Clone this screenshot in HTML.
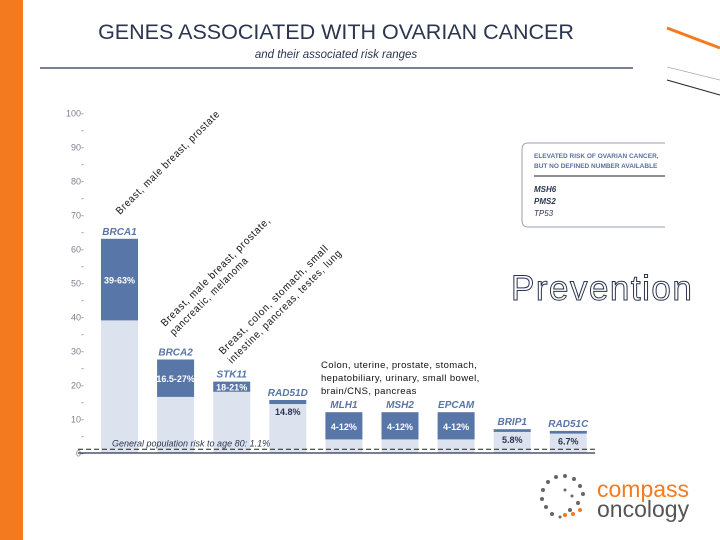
<!DOCTYPE html>
<html><head><meta charset="utf-8"><style>
body{margin:0;width:720px;height:540px;overflow:hidden;background:#fff;font-family:"Liberation Sans",sans-serif;position:relative}
</style></head><body>
<div style="position:absolute;left:0;top:0;width:23px;height:540px;background:#f47a20"></div>
<svg width="720" height="540" style="position:absolute;left:0;top:0">
<text x="336" y="39" text-anchor="middle" font-size="21.5" fill="#2a3550" font-family="Liberation Sans">GENES ASSOCIATED WITH OVARIAN CANCER</text>
<text x="336" y="58" text-anchor="middle" font-size="11.5" font-style="italic" fill="#2a3550">and their associated risk ranges</text>
<line x1="40" y1="68" x2="633" y2="68" stroke="#2a3550" stroke-width="1.2"/>
<line x1="667" y1="28" x2="720" y2="48" stroke="#f47a20" stroke-width="3"/>
<line x1="667" y1="67" x2="720" y2="80" stroke="#aaa" stroke-width="0.8"/>
<line x1="667" y1="80" x2="720" y2="95" stroke="#222" stroke-width="1"/>
<g id="axis"></g>
<g id="bars"></g>
<line x1="78" y1="453" x2="595" y2="453" stroke="#2a3550" stroke-width="1.2"/>
<g font-size="10.5" fill="#111" letter-spacing="0.8">
<text transform="translate(120,215) rotate(-45)" textLength="142" lengthAdjust="spacingAndGlyphs">Breast, male breast, prostate</text>
<text transform="translate(165,327) rotate(-45)" textLength="150" lengthAdjust="spacingAndGlyphs">Breast, male breast, prostate,</text>
<text transform="translate(174,336) rotate(-45)" textLength="106" lengthAdjust="spacingAndGlyphs">pancreatic, melanoma</text>
<text transform="translate(223,355) rotate(-45)" textLength="150" lengthAdjust="spacingAndGlyphs">Breast, colon, stomach, small</text>
<text transform="translate(232,364) rotate(-45)" textLength="156" lengthAdjust="spacingAndGlyphs">intestine, pancreas, testes, lung</text>
</g>
<g font-size="9.5" fill="#111" letter-spacing="0.4">
<text x="321" y="368">Colon, uterine, prostate, stomach,</text>
<text x="321" y="381">hepatobiliary, urinary, small bowel,</text>
<text x="321" y="394">brain/CNS, pancreas</text>
</g>
<g>
<path d="M665,143 L528,143 Q522,143 522,150 L522,220 Q522,227 528,227 L665,227" fill="#fff" stroke="#9aa0ad" stroke-width="1"/>
<text x="534" y="158" font-size="6.5" font-weight="bold" fill="#5a6fa0">ELEVATED RISK OF OVARIAN CANCER,</text>
<text x="534" y="168" font-size="6.5" font-weight="bold" fill="#5a6fa0">BUT NO DEFINED NUMBER AVAILABLE</text>
<line x1="534" y1="176" x2="665" y2="176" stroke="#222" stroke-width="1"/>
<text x="534" y="192" font-size="8" font-weight="bold" font-style="italic" fill="#2a3550">MSH6</text>
<text x="534" y="204" font-size="8" font-weight="bold" font-style="italic" fill="#2a3550">PMS2</text>
<text x="534" y="216" font-size="8" font-style="italic" fill="#2a3550">TP53</text>
</g>
<text x="511" y="300" font-size="35" fill="#fff" stroke="#2a3550" stroke-width="1" letter-spacing="1.5">Prevention</text>
<g>
<g fill="#666">
<circle cx="548" cy="482" r="2"/><circle cx="556" cy="477" r="2"/><circle cx="565" cy="476" r="2"/><circle cx="574" cy="479" r="2"/><circle cx="580" cy="486" r="2"/><circle cx="583" cy="494" r="2"/><circle cx="578" cy="503" r="2"/><circle cx="543" cy="490" r="2"/><circle cx="542" cy="499" r="2"/><circle cx="546" cy="507" r="2"/><circle cx="552" cy="514" r="2"/><circle cx="560" cy="517" r="1.5"/><circle cx="570" cy="510" r="2"/><circle cx="565" cy="490" r="1.5"/><circle cx="572" cy="496" r="1.5"/>
</g>
<g fill="#f47a20"><circle cx="565" cy="515" r="2"/><circle cx="573" cy="514" r="2"/><circle cx="580" cy="510" r="2"/></g>
<text x="597" y="497" font-size="23" fill="#f47a20">compass</text>
<text x="597" y="517" font-size="23" fill="#555">oncology</text>
</g>
</svg>
<script>
const genes=["BRCA1","BRCA2","STK11","RAD51D","MLH1","MSH2","EPCAM","BRIP1","RAD51C"];
const lowVals=[39,16.5,18,14.4,4,4,4,6.2,5.7];
const highVals=[63,27.5,21,15.6,12,12,12,7,6.5];
const valueLabels=["39-63%","16.5-27%","18-21%","14.8%","4-12%","4-12%","4-12%","5.8%","6.7%"];
const yTicks=[0,10,20,30,40,50,60,70,80,90,100];
const popRisk=1.1;
const NS="http://www.w3.org/2000/svg";
const y=v=>453-v*3.4;
const x=i=>101+i*56.1;
const bw=37;
function mk(t,a,p){const e=document.createElementNS(NS,t);for(const k in a)e.setAttribute(k,a[k]);p.appendChild(e);return e;}
const ax=document.getElementById("axis");
yTicks.forEach(t=>{
  const e=mk("text",{x:84,y:y(t)+3.5,"text-anchor":"end","font-size":"9",fill:"#7a8090"},ax);
  
  
  e.textContent=t+"-";
  if(t<100){const m=mk("text",{x:84,y:y(t+5)+3.5,"text-anchor":"end","font-size":"9",fill:"#7a8090"},ax);m.textContent="-";}
});
const g=document.getElementById("bars");
genes.forEach((gn,i)=>{
  const bx=x(i);
  const lt=mk("rect",{x:bx,y:y(lowVals[i]),width:bw,height:y(0)-y(lowVals[i]),fill:"#dce3ee"},g);
  
  
  const dk=mk("rect",{x:bx,y:y(highVals[i]),width:bw,height:y(lowVals[i])-y(highVals[i]),fill:"#5876a8"},g);
  
  
  const gl=mk("text",{x:bx+bw/2,y:y(highVals[i])-4,"text-anchor":"middle","font-size":"10","font-style":"italic","font-weight":"bold",fill:"#5876a8"},g);
  
  
  gl.textContent=gn;
  const thin=(highVals[i]-lowVals[i])<2;
  const vy=thin?y(lowVals[i])+11:(y(highVals[i])+y(lowVals[i]))/2+4;
  const vl=mk("text",{x:bx+bw/2,y:vy,"text-anchor":"middle","font-size":"9","font-weight":"bold",fill:thin?"#2a3550":"#fff"},g);
  
  
  vl.textContent=valueLabels[i];
});
const dl=mk("line",{x1:78,y1:y(popRisk),x2:595,y2:y(popRisk),stroke:"#222","stroke-width":"1","stroke-dasharray":"5,3"},g);


const pl=mk("text",{x:112,y:y(popRisk)-3,"font-size":"9","font-style":"italic",fill:"#2a3550"},g);


pl.textContent="General population risk to age 80: "+popRisk+"%";
</script>
</body></html>
